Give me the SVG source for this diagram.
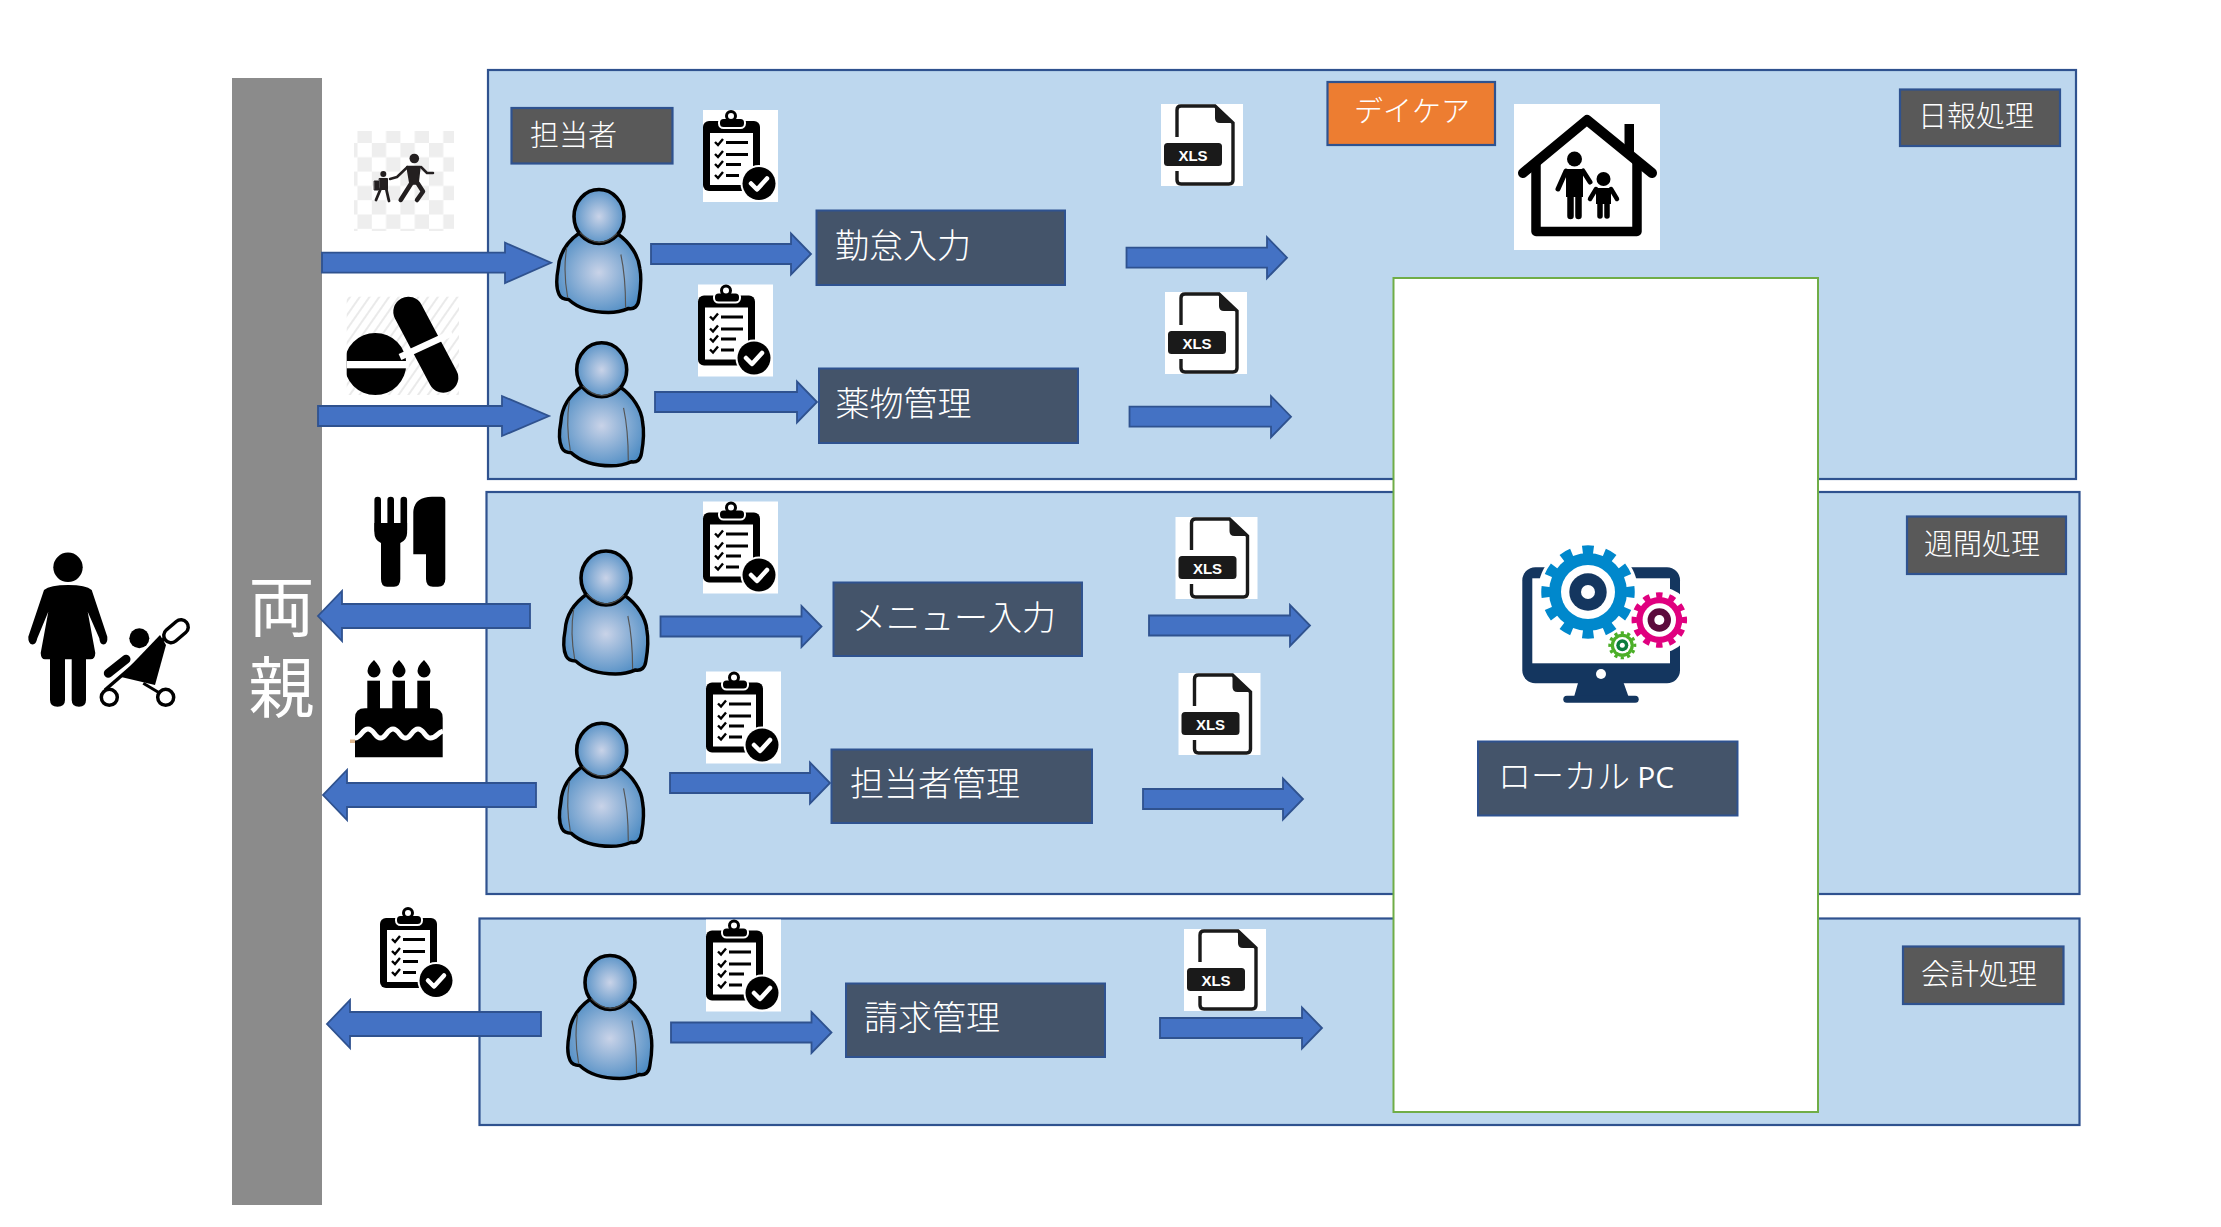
<svg xmlns="http://www.w3.org/2000/svg" width="2221" height="1227" viewBox="0 0 2221 1227">
<style>
.panel{fill:#BDD7EE;stroke:#2F528F;stroke-width:2.2}
.tag{fill:#595959;stroke:#2F528F;stroke-width:2.2}
.proc{fill:#44546A;stroke:#2F528F;stroke-width:2}
.arrow{fill:#4472C4;stroke:#2F528F;stroke-width:1.8}
.t{font-family:"Noto Sans CJK JP","Noto Sans CJK SC",sans-serif;fill:#fff;font-weight:300}
.t29{font-size:29px}
.t34{font-size:34px}
.ln{stroke:#000;fill:none}
.k{fill:#000}
.w{fill:#fff}
</style>
<defs>
<radialGradient id="pg" cx="50%" cy="50%" r="58%"><stop offset="0" stop-color="#C9D3E8"/><stop offset="1" stop-color="#4C8BC3"/></radialGradient>
<pattern id="chk" width="28.6" height="28.6" patternUnits="userSpaceOnUse"><rect width="28.6" height="28.6" fill="#fff"/><rect width="14.3" height="14.3" fill="#EEEEEE"/><rect x="14.3" y="14.3" width="14.3" height="14.3" fill="#EEEEEE"/></pattern>
<pattern id="hatch" width="8" height="8" patternUnits="userSpaceOnUse" patternTransform="rotate(35)"><rect width="8" height="8" fill="#fff"/><rect width="2" height="8" fill="#EAEAEA"/></pattern>
<clipPath id="pillclip"><rect x="346.700" y="296.700" width="112.300" height="98.300"/></clipPath>
<g id="person">
<g transform="scale(.95 1)">
<path d="M-20 16C-32 24-42 36-43 52C-45 62-45 72-42 78C-40 82-36 83-32 83C-24 90-10 96 10 96C20 96 26 94 31 92C37 93 41 90 42 83C44 72 45 62 43 52C42 40 33 26 19 17Z" fill="url(#pg)" stroke="#000" stroke-width="3.6" stroke-linejoin="round"/>
</g>
<ellipse cx="0" cy="0" rx="25" ry="27" fill="url(#pg)" stroke="#000" stroke-width="3.6"/>
<g transform="scale(.95 1)">
<path d="M-20 16Q0 35 19 17" fill="none" stroke="#444" stroke-width="1.2"/>
<path d="M-34 31Q-38 55-33 81M23 38Q28 60 28 91" fill="none" stroke="#555" stroke-width="1.2"/>
</g>
</g>
<g id="clipboard">
<rect width="75" height="92" class="w"/>
<rect x="0" y="11" width="57" height="70" rx="6" class="k"/>
<rect x="7" y="23" width="43" height="52" class="w"/>
<rect x="16" y="8" width="26" height="10" rx="4.5" class="k" stroke="#fff" stroke-width="2"/>
<circle cx="28" cy="6" r="4.5" class="w" stroke="#000" stroke-width="3"/>
<path d="M12 32l3 3 5-6M12 44l3 3 5-6M12 54l3 3 5-6M12 65l3 3 5-6" class="ln" stroke-width="2.4"/>
<path d="M23 32.500H45M23 44.500H45M23 54.500H38M23 65.500H36" class="ln" stroke-width="3.2"/>
<circle cx="56" cy="73.500" r="18.500" class="w"/>
<circle cx="56" cy="73.500" r="16.500" class="k"/>
<path d="M48 73.500l6 6 10-11" fill="none" stroke="#fff" stroke-width="4.500" stroke-linecap="round" stroke-linejoin="round"/>
</g>
<g id="xls">
<rect width="82" height="82" class="w"/>
<path d="M16 33V6Q16 2 20 2H54L72 19V76Q72 80 68 80H20Q16 80 16 76V67" fill="none" stroke="#1A1A1A" stroke-width="3.4"/>
<path d="M54 1L73 19H59Q54 19 54 14Z" fill="#1A1A1A"/>
<rect x="3" y="39" width="58" height="23" rx="3.5" fill="#1A1A1A"/>
<text x="32" y="57" text-anchor="middle" font-family="'Liberation Sans',sans-serif" font-weight="700" font-size="15" fill="#fff">XLS</text>
</g>
</defs>
<rect width="2221" height="1227" fill="#fff"/>

<g id="panel-daily"><rect class="panel" x="488" y="70" width="1588" height="409"/></g>
<g id="panel-weekly"><rect class="panel" x="486.500" y="492" width="1593" height="402"/></g>
<g id="panel-account"><rect class="panel" x="479.500" y="918.500" width="1600" height="206.500"/></g>

<g id="parents">
<rect x="232" y="78" width="90" height="1127" fill="#8B8B8B"/>
<text class="t" text-anchor="middle" font-size="66" style="font-weight:400"><tspan x="281.500" y="631">両</tspan><tspan x="281.500" y="712">親</tspan></text>
</g>

<g id="mother-stroller">
<circle cx="68" cy="567.300" r="14.700" class="k"/>
<path d="M44 590Q50 585 68.300 585Q86 585 91.700 590L107.300 636.700Q108 644 103.300 644.500Q100 644.500 99.300 638.300L87.700 611.700L95.300 653Q95 659.300 90.700 659.300H45Q41 659.300 40.700 653L48.300 611.700L37.300 638.300Q36 644.500 32.700 644.500Q28 644 28.300 636.700Z" class="k"/>
<path d="M50 655H65V700Q65 706.700 57.500 706.700Q50 706.700 50 700ZM71.700 655H86V700Q86 706.700 79 706.700Q71.700 706.700 71.700 700Z" class="k"/>
<circle cx="139.300" cy="638.300" r="10" class="k"/>
<path d="M171 635.500L181 627" stroke="#000" stroke-width="18" stroke-linecap="round"/>
<path d="M171 635.500L181 627" stroke="#fff" stroke-width="11" stroke-linecap="round"/>
<path d="M165 638L105 690" stroke="#000" stroke-width="3.500" fill="none"/>
<path d="M160 635L166 645L155 685L120 676.700Z" class="k"/>
<path d="M108.300 673.300L126 659.300" stroke="#000" stroke-width="9" stroke-linecap="round"/>
<path d="M143.300 683.300L160 693.300" stroke="#000" stroke-width="3"/>
<circle cx="109.300" cy="697.300" r="8" class="w" stroke="#000" stroke-width="3.500"/>
<circle cx="165.700" cy="697.300" r="8" class="w" stroke="#000" stroke-width="3.500"/>
</g>

<g id="icon-school">
<rect x="354" y="131" width="100" height="100" fill="url(#chk)"/>
<g fill="#231F20" stroke="#231F20" stroke-linecap="round" stroke-linejoin="round">
<circle cx="414.300" cy="158.500" r="4.800" stroke="none"/>
<path d="M407 166.500H420L418 184H410Z" stroke-width="1.500"/>
<path d="M407.500 167L397 177L390 179M421 167L427 173L433 173" fill="none" stroke-width="2.500"/>
<path d="M411.500 183L400.700 200M417.500 183L423 191.500L417 200" fill="none" stroke-width="4.500"/>
<circle cx="383.300" cy="174" r="3" stroke="none"/>
<rect x="379.500" y="178.500" width="8" height="11" stroke-width="1"/>
<rect x="374.500" y="181" width="4" height="9" stroke-width="1"/>
<path d="M381 188L376 200M386 188L389 201" fill="none" stroke-width="2.800"/>
</g>
</g>

<g id="icon-pills">
<rect x="346.700" y="296.700" width="112.300" height="98.300" fill="url(#hatch)"/>
<circle cx="375.300" cy="364" r="31" class="k" clip-path="url(#pillclip)"/>
<rect x="346.700" y="361" width="62" height="7.300" class="w"/>
<path d="M408.300 311.700L443.300 377.700" stroke="#000" stroke-width="30" stroke-linecap="round"/>
<path d="M400 357L452 333" stroke="#fff" stroke-width="6.500"/>
</g>

<g id="icon-cutlery">
<path d="M377.700 500V530M390.700 500V530M403.800 500V530" stroke="#000" stroke-width="6.600" stroke-linecap="round"/>
<path d="M374.400 523H407.100V533Q407 540 400.300 543V579Q400.300 586.700 394 586.700H387Q381 586.700 381 579V543Q374.400 540 374.400 533Z" class="k"/>
<path d="M413.300 512Q414 497 432 496.700H441Q445.300 496.700 445.300 501V579Q445.300 586.700 438 586.700H433Q426 586.700 426 579V554.300H413.300Z" class="k"/>
</g>

<g id="icon-cake">
<path d="M374 660Q380.500 667 380.500 671A6.500 6.500 0 0 1 367.500 671Q367.500 666 374 660ZM399 660Q405.500 667 405.500 671A6.500 6.500 0 0 1 392.500 671Q392.500 666 399 660ZM424 660Q430.500 667 430.500 671A6.500 6.500 0 0 1 417.500 671Q417.500 666 424 660Z" class="k"/>
<rect x="367.300" y="680.700" width="12.700" height="30" class="k"/>
<rect x="392.300" y="680.700" width="12.700" height="30" class="k"/>
<rect x="417.300" y="680.700" width="12.700" height="30" class="k"/>
<path d="M355 718Q355 708.300 365 708.300H432.700Q442.700 708.300 442.700 718V757.300H355Z" class="k"/>
<path d="M355 738C361 738 362 729 368 729S375 738 380.500 738S387 729 393 729S400 738 405.500 738S412 729 418 729S425 738 430.500 738S437 733 443 731" fill="none" stroke="#fff" stroke-width="5"/>
<rect x="350" y="739.500" width="5" height="3.500" fill="#E0B98F"/>
</g>

<g id="clipboard-parent"><use href="#clipboard" x="380" y="907"/></g>

<g id="connectors">
<polygon class="arrow" points="322,252.700 505,252.700 505,242.700 551,262.700 505,283 505,272.700 322,272.700"/>
<polygon class="arrow" points="318,406 502,406 502,396 549,416 502,436 502,426 318,426"/>
<polygon class="arrow" points="530,604 342,604 342,591 318,616 342,641 342,628 530,628"/>
<polygon class="arrow" points="536,783 347,783 347,770 323,795 347,820 347,807 536,807"/>
<polygon class="arrow" points="541,1012 350,1012 350,1000 327,1024 350,1048 350,1036 541,1036"/>
<polygon class="arrow" points="651,244 791,244 791,233.500 811,254 791,274.500 791,264 651,264"/>
<polygon class="arrow" points="655,392 797,392 797,381.500 817,402 797,422.500 797,412 655,412"/>
<polygon class="arrow" points="660.500,616.500 801.500,616.500 801.500,606 821.500,626.500 801.500,647 801.500,636.500 660.500,636.500"/>
<polygon class="arrow" points="670,773 810,773 810,762.500 830,783 810,803.500 810,793 670,793"/>
<polygon class="arrow" points="671,1022.500 811.500,1022.500 811.500,1012 831.500,1032.500 811.500,1053 811.500,1042.500 671,1042.500"/>
<polygon class="arrow" points="1126.500,247.700 1267,247.700 1267,237.200 1287,257.700 1267,278.200 1267,267.700 1126.500,267.700"/>
<polygon class="arrow" points="1129.500,406.700 1271,406.700 1271,396.200 1291,416.700 1271,437.200 1271,426.700 1129.500,426.700"/>
<polygon class="arrow" points="1149,615.500 1290,615.500 1290,605 1310,625.500 1290,646 1290,635.500 1149,635.500"/>
<polygon class="arrow" points="1143,789 1283,789 1283,778.500 1303,799 1283,819.500 1283,809 1143,809"/>
<polygon class="arrow" points="1160,1018 1302,1018 1302,1007.500 1322,1028 1302,1048.500 1302,1038 1160,1038"/>
</g>

<g id="tag-staff"><rect class="tag" x="511.500" y="108" width="161" height="55.500"/><text class="t t29" x="530" y="146">担当者</text></g>
<g id="tag-daily"><rect class="tag" x="1900" y="89.500" width="160" height="56.500"/><text class="t t29" x="1918" y="127">日報処理</text></g>
<g id="tag-weekly"><rect class="tag" x="1907" y="516.500" width="159" height="57.500"/><text class="t t29" x="1924" y="555">週間処理</text></g>
<g id="tag-account"><rect class="tag" x="1903" y="946.500" width="160.500" height="57.500"/><text class="t t29" x="1921" y="985">会計処理</text></g>
<g id="tag-daycare"><rect x="1327.500" y="82" width="167.500" height="63" fill="#ED7D31" stroke="#2F528F" stroke-width="2.200"/><text class="t t29" x="1354" y="122">デイケア</text></g>

<g id="person-1"><use href="#person" x="599" y="216.500"/></g>
<g id="person-2"><use href="#person" x="601.700" y="369.800"/></g>
<g id="person-3"><use href="#person" x="606" y="578"/></g>
<g id="person-4"><use href="#person" x="601.700" y="750.300"/></g>
<g id="person-5"><use href="#person" x="610" y="982.500"/></g>

<g id="clipboard-1"><use href="#clipboard" x="703" y="110"/></g>
<g id="clipboard-2"><use href="#clipboard" x="698" y="284.500"/></g>
<g id="clipboard-3"><use href="#clipboard" x="703" y="501.500"/></g>
<g id="clipboard-4"><use href="#clipboard" x="706" y="671.500"/></g>
<g id="clipboard-5"><use href="#clipboard" x="706" y="919.500"/></g>

<g id="xls-1"><use href="#xls" x="1161" y="104"/></g>
<g id="xls-2"><use href="#xls" x="1165" y="292"/></g>
<g id="xls-3"><use href="#xls" x="1175.500" y="517"/></g>
<g id="xls-4"><use href="#xls" x="1178.500" y="673"/></g>
<g id="xls-5"><use href="#xls" x="1184" y="929"/></g>

<g id="proc-attendance"><rect class="proc" x="816.500" y="210.500" width="248.500" height="74.500"/><text class="t t34" x="835" y="258">勤怠入力</text></g>
<g id="proc-medicine"><rect class="proc" x="819" y="368.500" width="259" height="74.500"/><text class="t t34" x="835.500" y="416">薬物管理</text></g>
<g id="proc-menu"><rect class="proc" x="833.500" y="582.500" width="248.500" height="73.500"/><text class="t t34" x="852" y="630">メニュー入力</text></g>
<g id="proc-staff"><rect class="proc" x="831.500" y="749.500" width="260.500" height="73.500"/><text class="t t34" x="850" y="796">担当者管理</text></g>
<g id="proc-billing"><rect class="proc" x="846" y="983.500" width="259" height="73.500"/><text class="t t34" x="864" y="1030">請求管理</text></g>

<g id="icon-daycare">
<rect x="1514" y="104" width="146" height="146" class="w"/>
<rect x="1624.500" y="124" width="9.500" height="30" class="k"/>
<path d="M1523 173L1587 120L1652 173" fill="none" stroke="#000" stroke-width="10" stroke-linecap="round" stroke-linejoin="round"/>
<path d="M1536 160V231.500H1637V160" fill="none" stroke="#000" stroke-width="9.500" stroke-linejoin="round"/>
<circle cx="1574.500" cy="159" r="7.500" class="k"/>
<path d="M1566 169H1583V197H1566Z" class="k"/>
<path d="M1566 171L1558 189M1583 171L1590 182" stroke="#000" stroke-width="5" stroke-linecap="round"/>
<path d="M1570.500 195V216M1578.500 195V216" stroke="#000" stroke-width="6.500" stroke-linecap="round"/>
<circle cx="1603.500" cy="179" r="7" class="k"/>
<path d="M1596 188H1611V204H1596Z" class="k"/>
<path d="M1596 189L1590 199M1611 189L1617 199" stroke="#000" stroke-width="4.500" stroke-linecap="round"/>
<path d="M1600 202V216M1607 202V216" stroke="#000" stroke-width="5.500" stroke-linecap="round"/>
</g>

<g id="local-pc">
<rect x="1393.500" y="278" width="424.500" height="834" fill="#fff" stroke="#70AD47" stroke-width="2"/>
<g id="icon-pc">
<rect x="1522.300" y="567.300" width="157.700" height="116" rx="13" fill="#14365F"/>
<rect x="1532.300" y="578.300" width="137.700" height="85" class="w"/>
<circle cx="1601" cy="674" r="5" class="w"/>
<path d="M1578.300 682L1623.300 682L1628.300 696H1574.300Z" fill="#14365F"/>
<rect x="1563.300" y="695.700" width="75.400" height="7" rx="3.500" fill="#14365F"/>
<circle cx="1588" cy="592" r="50" class="w"/>
<circle cx="1659.300" cy="620" r="33" class="w"/>
<circle cx="1588" cy="592" r="39" fill="#0088CC"/>
<circle cx="1588" cy="592" r="42" fill="none" stroke="#0088CC" stroke-width="9.500" pathLength="120" stroke-dasharray="5 5" stroke-dashoffset="2.500"/>
<circle cx="1588" cy="592" r="27" class="w"/>
<circle cx="1588" cy="592" r="18.700" fill="#14365F"/>
<circle cx="1588" cy="592" r="7" class="w"/>
<circle cx="1659.300" cy="620" r="23" fill="#E0007F"/>
<circle cx="1659.300" cy="620" r="25" fill="none" stroke="#E0007F" stroke-width="5.500" pathLength="120" stroke-dasharray="5 5" stroke-dashoffset="2.500"/>
<circle cx="1659.300" cy="620" r="16.700" class="w"/>
<circle cx="1659.300" cy="620" r="11.700" fill="#5C0A3C"/>
<circle cx="1659.300" cy="620" r="5" class="w"/>
<circle cx="1622.300" cy="645.300" r="11.500" fill="#4CAF28"/>
<circle cx="1622.300" cy="645.300" r="12.500" fill="none" stroke="#4CAF28" stroke-width="3" pathLength="120" stroke-dasharray="5 5" stroke-dashoffset="2.500"/>
<circle cx="1622.300" cy="645.300" r="8.300" class="w"/>
<circle cx="1622.300" cy="645.300" r="6" fill="#0A7D3C"/>
<circle cx="1622.300" cy="645.300" r="2.500" class="w"/>
</g>
<rect class="proc" x="1478" y="741.500" width="259.500" height="74"/>
<text class="t" font-size="33" x="1498" y="788">ローカル <tspan font-family="'Open Sans',sans-serif" font-size="30" style="font-weight:400">PC</tspan></text>
</g>
</svg>
